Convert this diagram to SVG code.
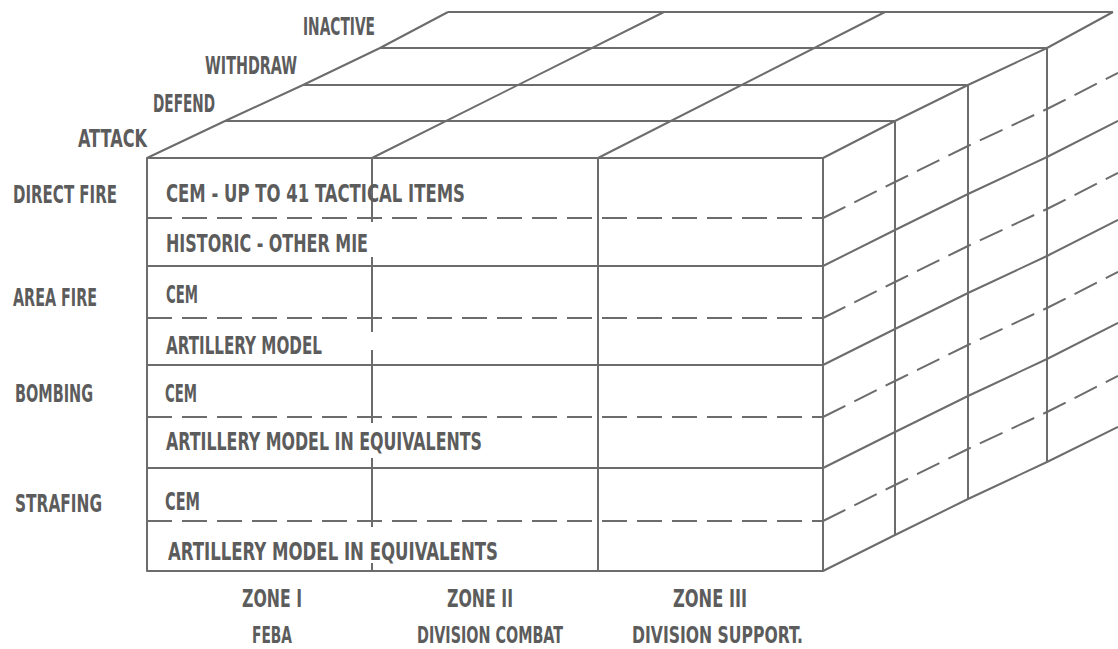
<svg xmlns="http://www.w3.org/2000/svg" width="1118" height="649" viewBox="0 0 1118 649">
<style>
.ln{fill:none;stroke:#6c6c6c;stroke-width:2;stroke-linejoin:round}
.ds{fill:none;stroke:#6c6c6c;stroke-width:2;stroke-dasharray:25 10}
.t{font-family:"DejaVu Sans Condensed","DejaVu Sans",sans-serif;font-weight:bold;font-size:25px;fill:#5c5c5c}
.s{font-size:23px}
</style>
<rect width="1118" height="649" fill="#ffffff"/>
<g id="top-face">
<polyline class="ln" points="147,158 225,121 303,85 380,48 448,12"/>
<line class="ln" x1="372" y1="158" x2="664" y2="12"/>
<line class="ln" x1="598" y1="158" x2="885" y2="12"/>
<polyline class="ln" points="823,158 895,121 968,85 1047,48 1113,12"/>
<line class="ln" x1="225" y1="121" x2="895" y2="121"/>
<line class="ln" x1="303" y1="85" x2="968" y2="85"/>
<line class="ln" x1="380" y1="48" x2="1047" y2="48"/>
<line class="ln" x1="448" y1="12" x2="1113" y2="12"/>
</g>
<g id="front-face">
<rect class="ln" x="147" y="158" width="676" height="413"/>
<line class="ln" x1="147" y1="266" x2="823" y2="266"/>
<line class="ln" x1="147" y1="365" x2="823" y2="365"/>
<line class="ln" x1="147" y1="468" x2="823" y2="468"/>
<line class="ds" x1="147" y1="218" x2="823" y2="218"/>
<line class="ds" x1="147" y1="318" x2="823" y2="318"/>
<line class="ds" x1="147" y1="417" x2="823" y2="417"/>
<line class="ds" x1="147" y1="521" x2="823" y2="521"/>
<line class="ln" x1="598" y1="158" x2="598" y2="571"/>
<line class="ln" x1="372" y1="158" x2="372" y2="222"/>
<line class="ln" x1="372" y1="257" x2="372" y2="332"/>
<line class="ln" x1="372" y1="350" x2="372" y2="423"/>
<line class="ln" x1="372" y1="458" x2="372" y2="527"/>
<line class="ln" x1="372" y1="563" x2="372" y2="571"/>
</g>
<g id="right-face">
<polyline class="ln" points="823,571 895,535 968,499 1047,462 1118,427"/>
<line class="ln" x1="895" y1="121" x2="895" y2="535"/>
<line class="ln" x1="968" y1="85" x2="968" y2="499"/>
<line class="ln" x1="1047" y1="48" x2="1047" y2="462"/>
<polyline class="ln" points="823,266 895,230 968,194 1047,157 1118,121"/>
<polyline class="ln" points="823,365 895,329 968,293 1047,256 1118,220"/>
<polyline class="ln" points="823,468 895,432 968,396 1047,359 1118,323"/>
<polyline class="ds" points="823,218 895,182 968,146 1047,109 1118,73"/>
<polyline class="ds" points="823,318 895,282 968,246 1047,209 1118,173"/>
<polyline class="ds" points="823,417 895,381 968,345 1047,308 1118,272"/>
<polyline class="ds" points="823,521 895,485 968,449 1047,412 1118,376"/>
</g>
<g id="layer-labels">
<text class="t" x="303" y="35" textLength="72" lengthAdjust="spacingAndGlyphs">INACTIVE</text>
<text class="t" x="205" y="74" textLength="92" lengthAdjust="spacingAndGlyphs">WITHDRAW</text>
<text class="t" x="153" y="112" textLength="62" lengthAdjust="spacingAndGlyphs">DEFEND</text>
<text class="t" x="78" y="147" textLength="69" lengthAdjust="spacingAndGlyphs">ATTACK</text>
</g>
<g id="row-labels">
<text class="t" x="13" y="203" textLength="104" lengthAdjust="spacingAndGlyphs">DIRECT FIRE</text>
<text class="t" x="13" y="306" textLength="84" lengthAdjust="spacingAndGlyphs">AREA FIRE</text>
<text class="t" x="15" y="402" textLength="78" lengthAdjust="spacingAndGlyphs">BOMBING</text>
<text class="t" x="15" y="512" textLength="87" lengthAdjust="spacingAndGlyphs">STRAFING</text>
</g>
<g id="cell-texts">
<text class="t" x="166" y="202" textLength="299" lengthAdjust="spacingAndGlyphs">CEM - UP TO 41 TACTICAL ITEMS</text>
<text class="t" x="166" y="252" textLength="202" lengthAdjust="spacingAndGlyphs">HISTORIC - OTHER MIE</text>
<text class="t" x="166" y="303" textLength="32" lengthAdjust="spacingAndGlyphs">CEM</text>
<text class="t" x="166" y="354" textLength="156" lengthAdjust="spacingAndGlyphs">ARTILLERY MODEL</text>
<text class="t" x="165" y="402" textLength="32" lengthAdjust="spacingAndGlyphs">CEM</text>
<text class="t" x="166" y="450" textLength="316" lengthAdjust="spacingAndGlyphs">ARTILLERY MODEL IN EQUIVALENTS</text>
<text class="t" x="165" y="510" textLength="35" lengthAdjust="spacingAndGlyphs">CEM</text>
<text class="t" x="168" y="560" textLength="330" lengthAdjust="spacingAndGlyphs">ARTILLERY MODEL IN EQUIVALENTS</text>
</g>
<g id="zone-labels">
<text class="t" x="242" y="607" textLength="60" lengthAdjust="spacingAndGlyphs">ZONE I</text>
<text class="t s" x="252" y="643" textLength="40" lengthAdjust="spacingAndGlyphs">FEBA</text>
<text class="t" x="447" y="607" textLength="66" lengthAdjust="spacingAndGlyphs">ZONE II</text>
<text class="t s" x="417" y="643" textLength="146" lengthAdjust="spacingAndGlyphs">DIVISION COMBAT</text>
<text class="t" x="673" y="607" textLength="74" lengthAdjust="spacingAndGlyphs">ZONE III</text>
<text class="t s" x="632" y="643" textLength="171" lengthAdjust="spacingAndGlyphs">DIVISION SUPPORT.</text>
</g>
</svg>
